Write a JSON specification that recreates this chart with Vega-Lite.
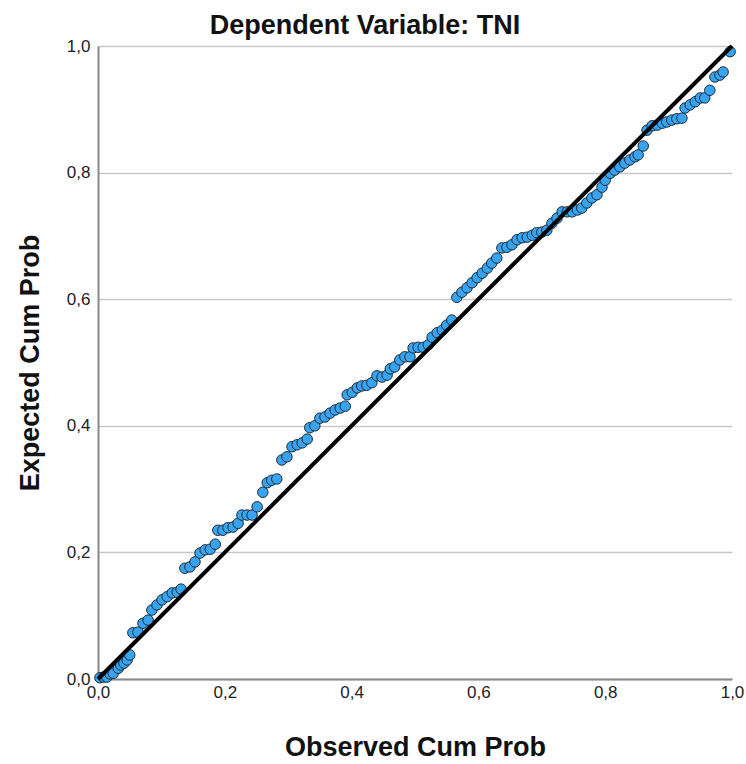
{
  "$schema": "https://vega.github.io/schema/vega-lite/v6.json",
  "width": 634,
  "height": 633,
  "autosize": {"type": "none"},
  "padding": {"left": 98, "top": 46, "right": 14, "bottom": 85},
  "background": "white",
  "title": {
    "text": "Dependent Variable: TNI",
    "font": "Liberation Sans",
    "fontSize": 27,
    "fontWeight": "bold",
    "color": "#111111",
    "anchor": "middle",
    "dx": -50,
    "offset": -3
  },
  "config": {
    "view": {"stroke": null},
    "axis": {
      "labelFont": "Liberation Sans",
      "labelFontSize": 17,
      "labelColor": "#222222",
      "titleFont": "Liberation Sans",
      "titleFontSize": 27,
      "titleFontWeight": "bold",
      "titleColor": "#111111",
      "domainColor": "#888888",
      "domainWidth": 2,
      "ticks": false,
      "gridColor": "#c8c8c8",
      "gridWidth": 1.5
    }
  },
  "layer": [
    {
      "data": {
        "values": [
          {"obs": 0.003, "exp": 0.002}, {"obs": 0.009, "exp": 0.003}, {"obs": 0.014, "exp": 0.003},
          {"obs": 0.019, "exp": 0.008}, {"obs": 0.024, "exp": 0.009}, {"obs": 0.032, "exp": 0.017},
          {"obs": 0.036, "exp": 0.022}, {"obs": 0.041, "exp": 0.025}, {"obs": 0.046, "exp": 0.030},
          {"obs": 0.050, "exp": 0.038}, {"obs": 0.055, "exp": 0.073}, {"obs": 0.063, "exp": 0.074},
          {"obs": 0.071, "exp": 0.088}, {"obs": 0.079, "exp": 0.093}, {"obs": 0.085, "exp": 0.109},
          {"obs": 0.093, "exp": 0.117}, {"obs": 0.101, "exp": 0.125}, {"obs": 0.109, "exp": 0.130},
          {"obs": 0.117, "exp": 0.136}, {"obs": 0.125, "exp": 0.137}, {"obs": 0.131, "exp": 0.142},
          {"obs": 0.137, "exp": 0.175}, {"obs": 0.145, "exp": 0.177}, {"obs": 0.153, "exp": 0.185},
          {"obs": 0.161, "exp": 0.199}, {"obs": 0.169, "exp": 0.204}, {"obs": 0.177, "exp": 0.205},
          {"obs": 0.185, "exp": 0.213}, {"obs": 0.189, "exp": 0.235}, {"obs": 0.197, "exp": 0.235},
          {"obs": 0.205, "exp": 0.239}, {"obs": 0.213, "exp": 0.240}, {"obs": 0.221, "exp": 0.246},
          {"obs": 0.227, "exp": 0.259}, {"obs": 0.235, "exp": 0.259}, {"obs": 0.243, "exp": 0.259},
          {"obs": 0.251, "exp": 0.272}, {"obs": 0.260, "exp": 0.295}, {"obs": 0.267, "exp": 0.310},
          {"obs": 0.274, "exp": 0.314}, {"obs": 0.282, "exp": 0.316}, {"obs": 0.290, "exp": 0.346},
          {"obs": 0.298, "exp": 0.351}, {"obs": 0.306, "exp": 0.367}, {"obs": 0.314, "exp": 0.370},
          {"obs": 0.322, "exp": 0.373}, {"obs": 0.330, "exp": 0.379}, {"obs": 0.334, "exp": 0.397},
          {"obs": 0.342, "exp": 0.400}, {"obs": 0.350, "exp": 0.412}, {"obs": 0.358, "exp": 0.414},
          {"obs": 0.366, "exp": 0.420}, {"obs": 0.374, "exp": 0.425}, {"obs": 0.382, "exp": 0.428},
          {"obs": 0.390, "exp": 0.431}, {"obs": 0.393, "exp": 0.449}, {"obs": 0.401, "exp": 0.453},
          {"obs": 0.409, "exp": 0.460}, {"obs": 0.416, "exp": 0.463}, {"obs": 0.424, "exp": 0.464},
          {"obs": 0.432, "exp": 0.468}, {"obs": 0.440, "exp": 0.479}, {"obs": 0.448, "exp": 0.477},
          {"obs": 0.456, "exp": 0.480}, {"obs": 0.461, "exp": 0.490}, {"obs": 0.468, "exp": 0.493},
          {"obs": 0.476, "exp": 0.504}, {"obs": 0.484, "exp": 0.509}, {"obs": 0.492, "exp": 0.509},
          {"obs": 0.497, "exp": 0.523}, {"obs": 0.505, "exp": 0.524}, {"obs": 0.513, "exp": 0.524},
          {"obs": 0.521, "exp": 0.528}, {"obs": 0.527, "exp": 0.540}, {"obs": 0.535, "exp": 0.547},
          {"obs": 0.543, "exp": 0.551}, {"obs": 0.550, "exp": 0.559}, {"obs": 0.558, "exp": 0.567},
          {"obs": 0.566, "exp": 0.603}, {"obs": 0.574, "exp": 0.611}, {"obs": 0.582, "exp": 0.618},
          {"obs": 0.590, "exp": 0.626}, {"obs": 0.598, "exp": 0.634}, {"obs": 0.606, "exp": 0.641},
          {"obs": 0.614, "exp": 0.649}, {"obs": 0.621, "exp": 0.657}, {"obs": 0.629, "exp": 0.665},
          {"obs": 0.637, "exp": 0.681}, {"obs": 0.645, "exp": 0.682}, {"obs": 0.653, "exp": 0.686},
          {"obs": 0.661, "exp": 0.694}, {"obs": 0.669, "exp": 0.697}, {"obs": 0.677, "exp": 0.698},
          {"obs": 0.685, "exp": 0.701}, {"obs": 0.692, "exp": 0.705}, {"obs": 0.700, "exp": 0.706},
          {"obs": 0.708, "exp": 0.709}, {"obs": 0.716, "exp": 0.720}, {"obs": 0.724, "exp": 0.728},
          {"obs": 0.732, "exp": 0.738}, {"obs": 0.740, "exp": 0.738}, {"obs": 0.748, "exp": 0.738},
          {"obs": 0.756, "exp": 0.741}, {"obs": 0.763, "exp": 0.744}, {"obs": 0.771, "exp": 0.752},
          {"obs": 0.779, "exp": 0.760}, {"obs": 0.787, "exp": 0.765}, {"obs": 0.795, "exp": 0.777},
          {"obs": 0.800, "exp": 0.788}, {"obs": 0.808, "exp": 0.799}, {"obs": 0.815, "exp": 0.804},
          {"obs": 0.823, "exp": 0.809}, {"obs": 0.831, "exp": 0.815}, {"obs": 0.839, "exp": 0.820},
          {"obs": 0.847, "exp": 0.825}, {"obs": 0.852, "exp": 0.828}, {"obs": 0.860, "exp": 0.842},
          {"obs": 0.866, "exp": 0.867}, {"obs": 0.874, "exp": 0.874}, {"obs": 0.882, "exp": 0.875},
          {"obs": 0.890, "exp": 0.878}, {"obs": 0.897, "exp": 0.880}, {"obs": 0.905, "exp": 0.883},
          {"obs": 0.913, "exp": 0.885}, {"obs": 0.921, "exp": 0.886}, {"obs": 0.926, "exp": 0.902},
          {"obs": 0.934, "exp": 0.907}, {"obs": 0.942, "exp": 0.912}, {"obs": 0.950, "exp": 0.918},
          {"obs": 0.957, "exp": 0.918}, {"obs": 0.965, "exp": 0.930}, {"obs": 0.973, "exp": 0.951},
          {"obs": 0.981, "exp": 0.954}, {"obs": 0.986, "exp": 0.959}, {"obs": 0.997, "exp": 0.991}
        ]
      },
      "mark": {"type": "point", "filled": true, "fill": "#36a4f0", "stroke": "#1e2a36", "strokeWidth": 1, "opacity": 1, "fillOpacity": 1, "size": 110, "shape": "circle"},
      "encoding": {
        "x": {
          "field": "obs", "type": "quantitative",
          "scale": {"domain": [0, 1], "nice": false},
          "axis": {"title": "Observed Cum Prob", "values": [0, 0.2, 0.4, 0.6, 0.8, 1], "grid": false, "labelPadding": 5, "titlePadding": 34, "labelExpr": "replace(format(datum.value, '.1f'), '.', ',')", "labelOverlap": false, "labelFlush": false}
        },
        "y": {
          "field": "exp", "type": "quantitative",
          "scale": {"domain": [0, 1], "nice": false},
          "axis": {"title": "Expected Cum Prob", "values": [0, 0.2, 0.4, 0.6, 0.8, 1], "grid": true, "labelPadding": 8, "titlePadding": 22, "labelExpr": "replace(format(datum.value, '.1f'), '.', ',')", "labelOverlap": false, "labelFlush": false}
        }
      }
    },
    {
      "data": {"values": [{"obs": 0, "exp": 0}, {"obs": 1, "exp": 1}]},
      "mark": {"type": "line", "color": "#000000", "strokeWidth": 4},
      "encoding": {
        "x": {"field": "obs", "type": "quantitative"},
        "y": {"field": "exp", "type": "quantitative"}
      }
    }
  ]
}
